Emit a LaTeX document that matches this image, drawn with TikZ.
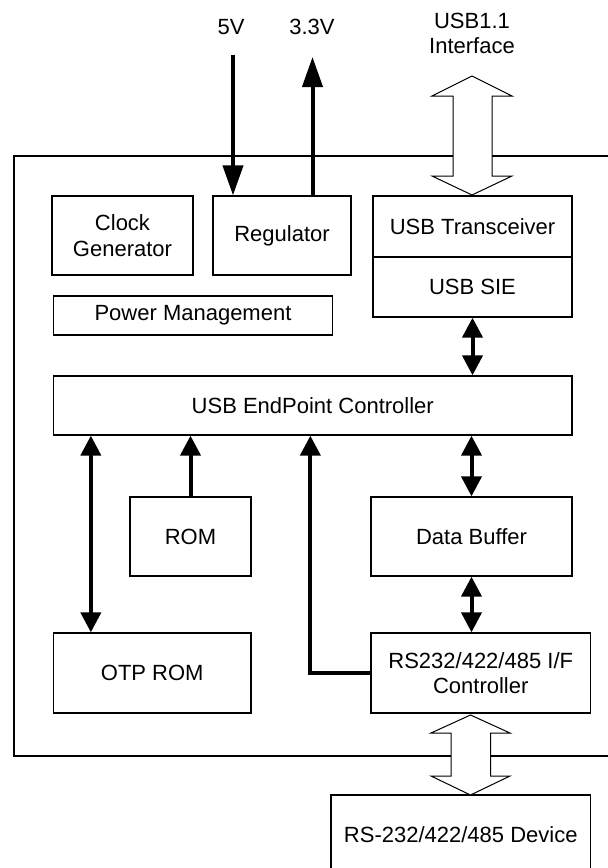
\documentclass[tikz,border=0pt]{standalone}
\usepackage{fontspec}
\setmainfont{Liberation Sans}
\usetikzlibrary{arrows.meta}

\tikzset{
  blk/.style={draw, line width=1.3pt, inner sep=0pt, align=center},
  bus/.style={line width=4pt, {Triangle[length=20pt,width=20pt]}-{Triangle[length=20pt,width=20pt]}},
  sig/.style={line width=4pt, -{Triangle[length=20pt,width=20pt]}},
  pwr/.style={line width=4pt, -{Triangle[length=30pt,width=20pt]}},
  hollow/.style={draw, fill=white, line width=1pt, line join=miter}
}

\begin{document}
\begin{tikzpicture}[x=1pt, y=-1pt, font=\fontsize{22}{25.5}\selectfont]
                \useasboundingbox (0,0) rectangle (608,868);
                \clip (0,0) rectangle (608,868);

                % Chip outline
                \draw[line width=1.3pt] (620,156) -- (14,156) -- (14,756) -- (620,756);

                % Supply and host labels
                \node (v5) at (231,27) {5V};
                \node (v33) at (312,27) {3.3V};
                \node (usb) at (472,33.5) [align=center] {USB1.1\\Interface};

                % Blocks
                \node[blk, minimum width=141pt, minimum height=79pt] (clk) at (122.5,235.5) {Clock\\Generator};
                \node[blk, minimum width=138pt, minimum height=79pt] (reg) at (282,235.5) {Regulator};
                \node[blk, minimum width=199pt, minimum height=61pt] (xcvr) at (472.5,226.5) {USB Transceiver};
                \node[blk, minimum width=199pt, minimum height=60pt] (sie) at (472.5,287) {USB SIE};
                \node[blk, minimum width=279pt, minimum height=39pt] (pwm) at (193,315.5) {Power Management};
                \node[blk, minimum width=518.5pt, minimum height=59pt] (ep) at (312.75,405.5) {USB EndPoint Controller};
                \node[blk, minimum width=121pt, minimum height=79pt] (rom) at (190.5,536.5) {ROM};
                \node[blk, minimum width=201pt, minimum height=79pt] (buf) at (471.5,536.5) {Data Buffer};
                \node[blk, minimum width=197.5pt, minimum height=80pt] (otp) at (152.25,673) {OTP ROM};
                \node[blk, minimum width=219.5pt, minimum height=80pt] (rs) at (480.75,673) {RS232/422/485 I/F\\Controller};
                \node[blk, minimum width=259.5pt, minimum height=80pt] (dev) at (460.75,835) {RS-232/422/485 Device};

                % Power in / out
                \coordinate (v5in) at (233,55);
                \coordinate (v33out) at (312.5,57);
                \draw[pwr] (v5in) -- (v5in |- reg.north);
                \draw[pwr] (v33out |- reg.north) -- (v33out);

                % Internal buses
                \draw[bus] (sie.south) -- (sie.south |- ep.north);
                \draw[bus] (buf.north |- ep.south) -- (buf.north);
                \draw[bus] (buf.south) -- (buf.south |- rs.north);
                \draw[bus] ([xshift=38pt]ep.south west) -- ([xshift=38pt]otp.north west);
                \draw[sig] (rom.north) -- (rom.north |- ep.south);
                \draw[sig] (rs.west) -| ([xshift=257.5pt]ep.south west);

                % External interfaces
                \draw[hollow] (472,76) -- (512,96) -- (492,96) -- (492,176) -- (512,176) -- (472,195)
                    -- (432,176) -- (453,176) -- (453,96) -- (432,96) -- cycle;
                \draw[hollow] (470.5,715) -- (510,733) -- (490.5,733) -- (490.5,776) -- (510,776) -- (470.5,795)
                    -- (431,776) -- (451,776) -- (451,733) -- (431,733) -- cycle;
            \end{tikzpicture}
\end{document}
